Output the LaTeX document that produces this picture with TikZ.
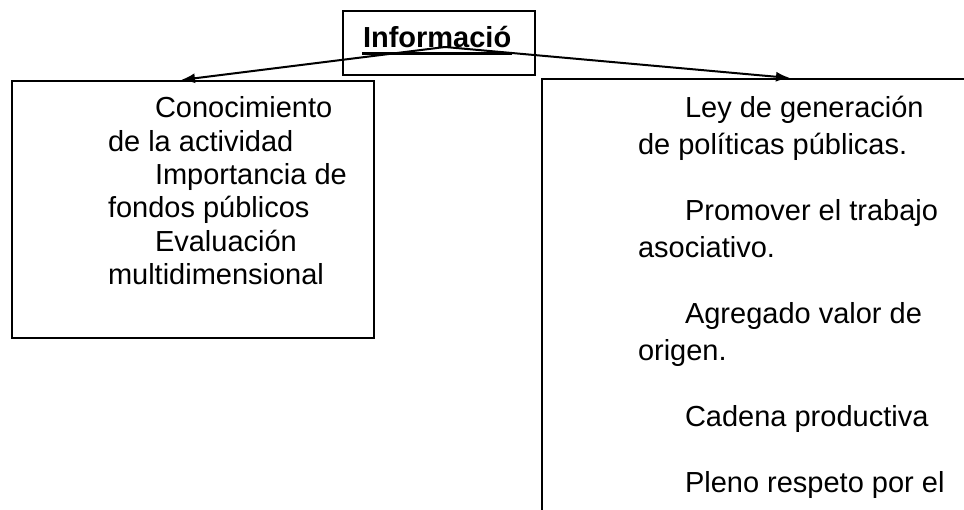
\documentclass[tikz,border=0pt]{standalone}
\usepackage{fontspec}
\setmainfont{Liberation Sans}
\usetikzlibrary{arrows.meta,positioning}

\newcommand{\ind}{\hspace*{47pt}}

\begin{document}
\begin{tikzpicture}[x=1pt,y=-1pt,line width=2pt,>={Latex[length=14pt,width=10pt]}]
  \tikzstyle{every node}=[inner sep=0pt,font=\fontsize{29}{33.3}\selectfont]
  \tikzstyle{box}=[draw,anchor=north west]
  \tikzstyle{txt}=[align=left,anchor=base west]
  \clip (0,0) rectangle (964,510);

  \node[box,minimum width=192pt,minimum height=64pt] (T) at (342,10) {};
  \node[anchor=base west,font=\fontsize{29}{33}\selectfont\bfseries] (info) at (362,48) {Informació};
  \draw[line width=3pt] ([yshift=-5.5pt]info.base west) -- ([yshift=-5.5pt]info.base east);

  \node[box,minimum width=362pt,minimum height=257pt] (L) at (11,80) {};
  \node[box,minimum width=500pt,minimum height=500pt] (R) at (541,78) {};

  % base = baseline of the last line
  \node[txt] (Ltxt) at (107,284.5) {\ind Conocimiento\\de la actividad\\\ind Importancia de\\fondos públicos\\\ind Evaluación\\multidimensional};

  \node[txt,font=\fontsize{29}{37}\selectfont] (Rtxt) at (637,492) {\ind Ley de generación\\de políticas públicas.\\[29pt]\ind Promover el trabajo\\asociativo.\\[29pt]\ind Agregado valor de\\origen.\\[29pt]\ind Cadena productiva\\[29pt]\ind Pleno respeto por el};

  \coordinate (apex) at (445,47);
  \draw[->] (apex) -- ([xshift=-12pt]L.north);
  \draw[->] (apex) -- ([xshift=249pt]R.north west);
\end{tikzpicture}
\end{document}
